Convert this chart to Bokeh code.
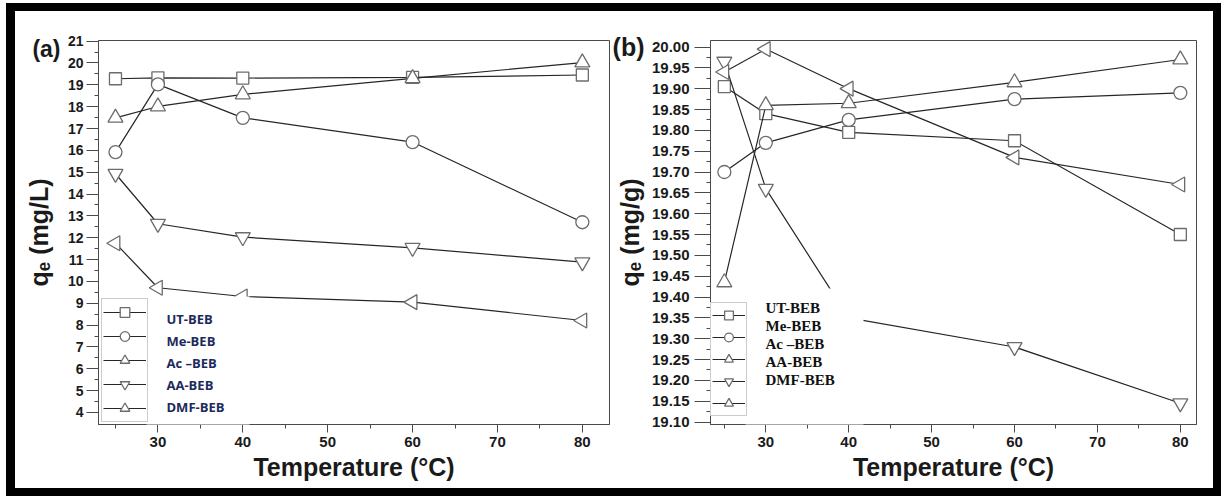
import math
from bokeh.plotting import figure
from bokeh.models import (FixedTicker, PrintfTickFormatter, Legend, LegendItem,
                          Label, BoxAnnotation, Range1d, LinearAxis, CustomJSTickFormatter)
from bokeh.layouts import row
from bokeh.embed import file_html
from bokeh.resources import INLINE

# ---------------- data ----------------
temps = [25, 30, 40, 60, 80]
series_names = ["UT-BEB", "Me-BEB", "Ac \u2013BEB", "AA-BEB", "DMF-BEB"]

# panel (a): qe (mg/L)
a_ut = [19.28, 19.32, 19.31, 19.34, 19.45]
a_me = [15.92, 19.02, 17.49, 16.38, 12.71]
a_ac = [17.49, 18.01, 18.56, 19.30, 20.02]
a_aa = [14.93, 12.64, 12.03, 11.54, 10.88]
a_dmf = [11.75, 9.71, 9.31, 9.05, 8.21]

# panel (b): qe (mg/g)
b_ut = [19.905, 19.840, 19.795, 19.775, 19.550]
b_me = [19.700, 19.770, 19.825, 19.875, 19.890]
b_ac = [19.435, 19.860, 19.865, 19.915, 19.970]
b_aa = [19.965, 19.660, 19.350, 19.280, 19.145]
b_dmf = [19.940, 19.995, 19.900, 19.735, 19.670]

x_ticks = [30, 40, 50, 60, 70, 80]
x_minor = [25, 35, 45, 55, 65, 75]
a_y_ticks = [4, 5, 6, 7, 8, 9, 10, 11, 12, 13, 14, 15, 16, 17, 18, 19, 20, 21]
b_y_ticks = [19.10, 19.15, 19.20, 19.25, 19.30, 19.35, 19.40, 19.45, 19.50,
             19.55, 19.60, 19.65, 19.70, 19.75, 19.80, 19.85, 19.90, 19.95, 20.00]

FONT = "Liberation Sans"
LINE_C = "#262626"
MARK_C = "#6c6c6c"
AX_C = "#4a4a4a"

# marker styles per series: (marker, angle, size)
mstyle = [("square", 0.0, 12), ("circle", 0.0, 13), ("triangle", 0.0, 15),
          ("inverted_triangle", 0.0, 15), ("triangle", math.pi / 2, 15)]


def make_panel(series, width, height, mbl, mbr, mbt, mbb, xr, yr, yticks,
               ytick_fs, xtick_fs, ytick_out, ytick_standoff,
               ylabel, tag, tag_fs, tag_at, tag_standoff, ylab_standoff,
               leg_loc, leg_gw, leg_gh,
               box, lab_x, lab_y0, lab_dy, lab_font, lab_fs, lab_color):
    p = figure(width=width, height=height, output_backend="svg", toolbar_location=None,
               x_range=Range1d(*xr), y_range=Range1d(*yr),
               min_border_left=mbl, min_border_right=mbr,
               min_border_top=mbt, min_border_bottom=mbb)
    p.xgrid.visible = False
    p.ygrid.visible = False
    p.outline_line_color = AX_C
    p.outline_line_width = 1
    p.background_fill_color = "white"
    p.border_fill_color = "white"

    p.xaxis.ticker = FixedTicker(ticks=x_ticks, minor_ticks=x_minor)
    step = yticks[1] - yticks[0]
    p.yaxis.ticker = FixedTicker(ticks=yticks,
                                 minor_ticks=[t + step / 2 for t in yticks[:-1]])
    for ax in (p.xaxis[0], p.yaxis[0]):
        ax.axis_line_color = AX_C
        ax.major_tick_line_color = AX_C
        ax.minor_tick_line_color = AX_C
        ax.major_tick_in = 0
        ax.minor_tick_in = 0
        ax.minor_tick_out = 4
        ax.major_label_text_font = FONT
        ax.major_label_text_font_style = "bold"
        ax.major_label_text_color = "#1a1a1a"
        ax.axis_label_text_font = FONT
        ax.axis_label_text_font_style = "bold"
        ax.axis_label_text_font_size = "25px"
        ax.axis_label_text_color = "#1a1a1a"
    p.xaxis[0].major_tick_out = 8
    p.yaxis[0].major_tick_out = ytick_out
    p.xaxis[0].major_label_text_font_size = xtick_fs
    p.yaxis[0].major_label_text_font_size = ytick_fs
    p.xaxis[0].major_label_standoff = 4
    p.xaxis[0].axis_label_standoff = 3
    p.yaxis[0].major_label_standoff = ytick_standoff
    p.xaxis[0].axis_label = "Temperature (\u00b0C)"
    if isinstance(yticks[0], float):
        p.yaxis[0].formatter = PrintfTickFormatter(format="%.2f")

    # outer left axis: carries the panel tag and the y title
    tag_axis = LinearAxis(ticker=FixedTicker(ticks=[tag_at], minor_ticks=[]),
                          formatter=CustomJSTickFormatter(code="return '%s';" % tag),
                          axis_label=ylabel)
    tag_axis.axis_line_color = None
    tag_axis.major_tick_line_color = None
    tag_axis.minor_tick_line_color = None
    tag_axis.major_tick_in = 0
    tag_axis.major_tick_out = 0
    tag_axis.major_label_standoff = tag_standoff
    tag_axis.major_label_text_font = FONT
    tag_axis.major_label_text_font_style = "bold"
    tag_axis.major_label_text_font_size = tag_fs
    tag_axis.major_label_text_color = "#1a1a1a"
    tag_axis.axis_label_text_font = FONT
    tag_axis.axis_label_text_font_style = "bold"
    tag_axis.axis_label_text_font_size = "25px"
    tag_axis.axis_label_text_color = "#1a1a1a"
    tag_axis.axis_label_standoff = ylab_standoff
    p.add_layout(tag_axis, "left")

    items = []
    for ys, (mk, ang, sz) in zip(series, mstyle):
        lr = p.line(temps, ys, line_color=LINE_C, line_width=1.2)
        sr = p.scatter(temps, ys, marker=mk, angle=ang, size=sz, fill_color="white",
                       line_color=MARK_C, line_width=1.3)
        items.append(LegendItem(label=" ", renderers=[lr, sr]))

    # white panel that carries the legend names
    p.add_layout(BoxAnnotation(left=box[0], right=box[1], bottom=box[2], top=box[3],
                               left_units="screen", right_units="screen",
                               bottom_units="screen", top_units="screen",
                               fill_color="white", fill_alpha=1.0, line_alpha=0.0))
    for i, name in enumerate(series_names):
        p.add_layout(Label(x=lab_x, y=lab_y0 - i * lab_dy, x_units="screen",
                           y_units="screen", text=name, text_font=lab_font,
                           text_font_style="bold", text_font_size=lab_fs,
                           text_color=lab_color, text_baseline="middle"))

    leg = Legend(items=items, location=leg_loc, glyph_width=leg_gw, glyph_height=leg_gh,
                 spacing=0, padding=1, margin=0, label_width=0, label_standoff=0,
                 label_height=leg_gh, label_text_font_size="1px",
                 border_line_color="#9a9a9a", border_line_width=1,
                 background_fill_color="white", background_fill_alpha=1.0)
    p.add_layout(leg)
    return p


pa = make_panel([a_ut, a_me, a_ac, a_aa, a_dmf], 597, 477, 83, 3, 29, 64,
                (23.0, 83.2), (3.45, 21.03), a_y_ticks, "14px", "15px", 12, 3,
                "q\u2091 (mg/L)", "(a)", "23px", 20.65, 4, -24,
                (3, 2), 43, 24,
                (48, 151, -6, 128), 68, 106, 22.2, "Open Sans", "13px", "#1c2a5c")

pb = make_panel([b_ut, b_me, b_ac, b_aa, b_dmf], 601, 477, 98, 17, 29, 64,
                (23.33, 81.95), (19.094, 20.0156), b_y_ticks, "15px", "15px", 16, 5,
                "q\u2091 (mg/g)", "(b)", "25px", 20.0, 4, -34,
                (0, 8), 33, 22,
                (35, 153, -8, 136), 55, 117, 18.2, "Liberation Serif", "15px", "#111111")

layout = row(pa, pb, styles={"border-style": "solid", "border-color": "black",
                             "border-width": "8px 8px 8px 9px",
                             "margin": "3px 0px 0px 6px"})

open("out.html", "w").write(file_html(layout, INLINE))
